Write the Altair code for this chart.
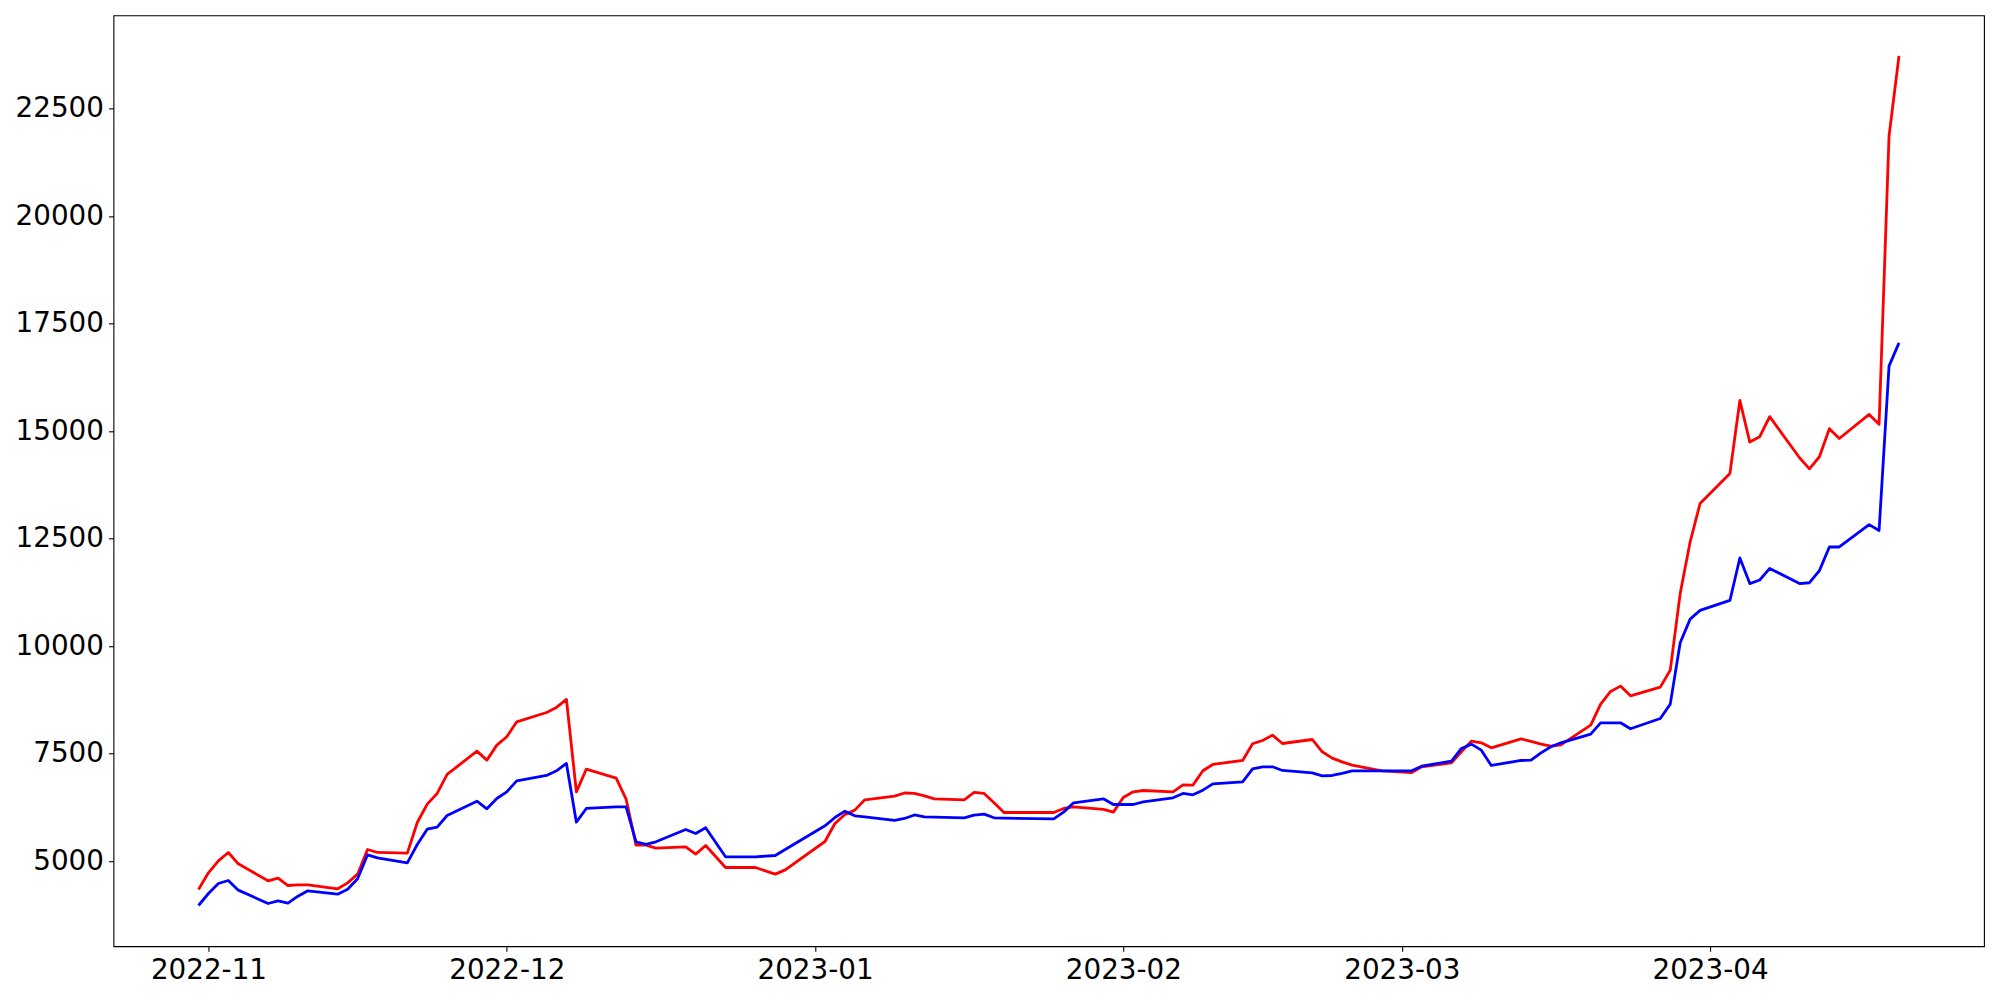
import altair as alt
import pandas as pd

dates = [
    "2022-10-31", "2022-11-01", "2022-11-02", "2022-11-03", "2022-11-04",
    "2022-11-07", "2022-11-08", "2022-11-09", "2022-11-10", "2022-11-11",
    "2022-11-14", "2022-11-15", "2022-11-16", "2022-11-17", "2022-11-18",
    "2022-11-21", "2022-11-22", "2022-11-23", "2022-11-24", "2022-11-25",
    "2022-11-28", "2022-11-29", "2022-11-30", "2022-12-01", "2022-12-02",
    "2022-12-05", "2022-12-06", "2022-12-07", "2022-12-08", "2022-12-09",
    "2022-12-12", "2022-12-13", "2022-12-14", "2022-12-15", "2022-12-16",
    "2022-12-19", "2022-12-20", "2022-12-21", "2022-12-23",
    "2022-12-26", "2022-12-28", "2022-12-29",
    "2023-01-02", "2023-01-03", "2023-01-04", "2023-01-05", "2023-01-06",
    "2023-01-09", "2023-01-10", "2023-01-11", "2023-01-12", "2023-01-13",
    "2023-01-16", "2023-01-17", "2023-01-18", "2023-01-19", "2023-01-20",
    "2023-01-25", "2023-01-26", "2023-01-27",
    "2023-01-30", "2023-01-31", "2023-02-01", "2023-02-02", "2023-02-03",
    "2023-02-06", "2023-02-07", "2023-02-08", "2023-02-09", "2023-02-10",
    "2023-02-13", "2023-02-14", "2023-02-15", "2023-02-16", "2023-02-17",
    "2023-02-20", "2023-02-21", "2023-02-22", "2023-02-23", "2023-02-24",
    "2023-02-27", "2023-03-02", "2023-03-03",
    "2023-03-06", "2023-03-07", "2023-03-08", "2023-03-09", "2023-03-10",
    "2023-03-13", "2023-03-14", "2023-03-15", "2023-03-16", "2023-03-17",
    "2023-03-20", "2023-03-21", "2023-03-22", "2023-03-23", "2023-03-24",
    "2023-03-27", "2023-03-28", "2023-03-29", "2023-03-30", "2023-03-31",
    "2023-04-03", "2023-04-04", "2023-04-05", "2023-04-06", "2023-04-07",
    "2023-04-10", "2023-04-11", "2023-04-12", "2023-04-13", "2023-04-14",
    "2023-04-17", "2023-04-18", "2023-04-19", "2023-04-20",
]

red_values = [
    4341, 4729, 5008, 5202, 4938,
    4543, 4605, 4434, 4450, 4450,
    4357, 4496, 4698, 5271, 5202,
    5186, 5899, 6326, 6574, 7016,
    7558, 7349, 7698, 7892, 8240,
    8457, 8574, 8760, 6612, 7140,
    6930, 6442, 5372, 5372, 5302,
    5333, 5163, 5364, 4853,
    4853, 4698, 4798,
    5457, 5876, 6085, 6186, 6426,
    6512, 6585, 6578, 6519, 6450,
    6426, 6597, 6574, 6357, 6132,
    6132, 6225, 6264,
    6202, 6140, 6481, 6612, 6643,
    6612, 6775, 6767, 7101, 7248,
    7341, 7729, 7806, 7930, 7736,
    7829, 7543, 7395, 7310, 7233,
    7097, 7062, 7194,
    7287, 7543, 7791, 7752, 7636,
    7845, 7783, 7721, 7674, 7705,
    8163, 8651, 8946, 9070, 8845,
    9047, 9442, 11225, 12426, 13318,
    14016, 15712, 14744, 14870, 15337,
    14381, 14122, 14403, 15056, 14828,
    15388, 15160, 21856, 23726,
]

blue_values = [
    3969, 4248, 4481, 4550, 4326,
    4016, 4078, 4023, 4186, 4310,
    4233, 4349, 4589, 5147, 5078,
    4961, 5388, 5744, 5791, 6062,
    6395, 6217, 6457, 6612, 6868,
    6992, 7101, 7271, 5907, 6225,
    6264, 6264, 5450, 5388, 5450,
    5736, 5643, 5775, 5101,
    5101, 5132, 5271,
    5822, 6016, 6163, 6054, 6031,
    5946, 5992, 6074, 6031, 6023,
    6008, 6070, 6093, 6008, 6000,
    5984, 6140, 6357,
    6450, 6318, 6318, 6318, 6380,
    6473, 6574, 6543, 6651, 6798,
    6845, 7147, 7194, 7194, 7109,
    7054, 6984, 6992, 7039, 7101,
    7101, 7101, 7209,
    7326, 7620, 7721, 7581, 7225,
    7341, 7349, 7519, 7659, 7752,
    7954, 8217, 8217, 8217, 8078,
    8318, 8651, 10078, 10628, 10830,
    11062, 12050, 11454, 11537, 11807,
    11454, 11474, 11756, 12305, 12305,
    12826, 12689, 16510, 17050,
]

month_ticks = [(2022, 11), (2022, 12), (2023, 1), (2023, 2), (2023, 3), (2023, 4)]
y_ticks = [5000, 7500, 10000, 12500, 15000, 17500, 20000, 22500]

df = pd.DataFrame({
    "date": [d + "T00:00:00" for d in dates],
    "red": red_values,
    "blue": blue_values,
})

x_enc = alt.X(
    "date:T",
    title=None,
    scale=alt.Scale(domain=["2022-10-22T10:48:00", "2023-04-28T13:12:00"], nice=False),
    axis=alt.Axis(
        values=[alt.DateTime(year=y, month=m, date=1) for (y, m) in month_ticks],
        format="%Y-%m",
        labelAngle=0,
    ),
)

y_scale = alt.Scale(domain=[3023, 24665], nice=False, zero=False)
y_axis = alt.Axis(values=y_ticks, format="d")

base = alt.Chart(df)
red_line = base.mark_line(color="#ff0000", strokeWidth=2.8, strokeJoin="round").encode(
    x=x_enc,
    y=alt.Y("red:Q", title=None, scale=y_scale, axis=y_axis),
)
blue_line = base.mark_line(color="#0000ff", strokeWidth=2.8, strokeJoin="round").encode(
    x=x_enc,
    y=alt.Y("blue:Q", title=None, scale=y_scale, axis=y_axis),
)

chart = (
    alt.layer(red_line, blue_line)
    .properties(
        width=1871,
        height=931,
        autosize=alt.AutoSizeParams(type="none"),
        padding={"left": 105.5, "top": 7.3, "right": 8, "bottom": 50},
    )
    .configure_view(stroke="black", strokeWidth=1.1)
    .configure_axis(
        domain=False,
        grid=False,
        ticks=True,
        tickColor="black",
        tickSize=5,
        tickWidth=1.1,
        labelFont="DejaVu Sans",
        labelFontSize=27.8,
        labelColor="black",
        labelPadding=5,
        labelOverlap=False,
        labelFlush=False,
    )
)

chart.save("out.html", embed_options={"renderer": "svg", "actions": False})
